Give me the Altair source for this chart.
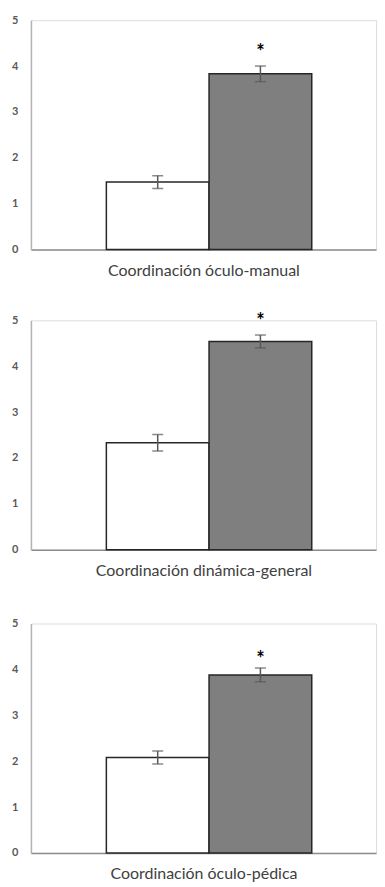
import altair as alt
import pandas as pd

# ---- data ----
titles = ["Coordinación óculo-manual", "Coordinación dinámica-general", "Coordinación óculo-pédica"]
groups = ["Grupo 1", "Grupo 2"]
means_g1 = [1.47, 2.33, 2.08]
means_g2 = [3.83, 4.54, 3.88]
err_g1 = [0.14, 0.18, 0.14]
err_g2 = [0.17, 0.14, 0.15]
star_y = [4.36, 5.05, 4.30]
y_ticks = [0, 1, 2, 3, 4, 5]
bar_colors = ["#ffffff", "#7f7f7f"]

FONT = "Lato"


def panel(i):
    df = pd.DataFrame({
        "grupo": groups,
        "media": [means_g1[i], means_g2[i]],
        "err": [err_g1[i], err_g2[i]],
    })
    df["lo"] = df["media"] - df["err"]
    df["hi"] = df["media"] + df["err"]
    star_df = pd.DataFrame({"grupo": [groups[1]], "y": [star_y[i]], "t": ["*"]})

    x = alt.X("grupo:N", sort=groups,
              scale=alt.Scale(paddingInner=0, paddingOuter=0.68, align=0.54),
              axis=alt.Axis(labels=False, ticks=False, title=titles[i],
                            titleFont=FONT, titleFontSize=16, titleFontWeight="normal",
                            titleColor="#404040", titlePadding=13,
                            domainColor="#8c8c8c", domainWidth=1.5))
    yscale = alt.Scale(domain=[0, 5], nice=False)
    yaxis = alt.Axis(values=y_ticks, ticks=False, grid=False, title=None,
                     labelFont=FONT, labelFontSize=11, labelFontWeight="bold",
                     labelColor="#595959", labelPadding=13,
                     domainColor="#b3b3b3", domainWidth=1.5)

    base = alt.Chart(df)
    bars = base.mark_bar(stroke="#262626", strokeWidth=1.5).encode(
        x=x,
        y=alt.Y("media:Q", scale=yscale, axis=yaxis),
        fill=alt.Fill("grupo:N", scale=alt.Scale(domain=groups, range=bar_colors), legend=None),
    )
    rule = base.mark_rule(color="#595959", strokeWidth=1.5).encode(
        x=alt.X("grupo:N", sort=groups), y="lo:Q", y2="hi:Q")
    tick_lo = base.mark_tick(color="#595959", size=11, thickness=1.5).encode(
        x=alt.X("grupo:N", sort=groups), y="lo:Q")
    tick_hi = base.mark_tick(color="#595959", size=11, thickness=1.5).encode(
        x=alt.X("grupo:N", sort=groups), y="hi:Q")
    star = alt.Chart(star_df).mark_text(font=FONT, fontSize=20, fontWeight="bold",
                                        color="#000000", baseline="middle", dy=4).encode(
        x=alt.X("grupo:N", sort=groups), y="y:Q", text="t:N")

    return alt.layer(bars, rule, tick_lo, tick_hi, star).properties(width=346, height=230)


p1, p2, p3 = panel(0), panel(1), panel(2)
top = alt.vconcat(p1, p2, spacing=32)
chart = alt.vconcat(top, p3, spacing=37).properties(
    padding={"left": 3, "top": 4, "right": 0, "bottom": 0}
).configure_view(stroke=None).configure(background="white")

chart.save("out.html", embed_options={"renderer": "svg", "actions": False})
